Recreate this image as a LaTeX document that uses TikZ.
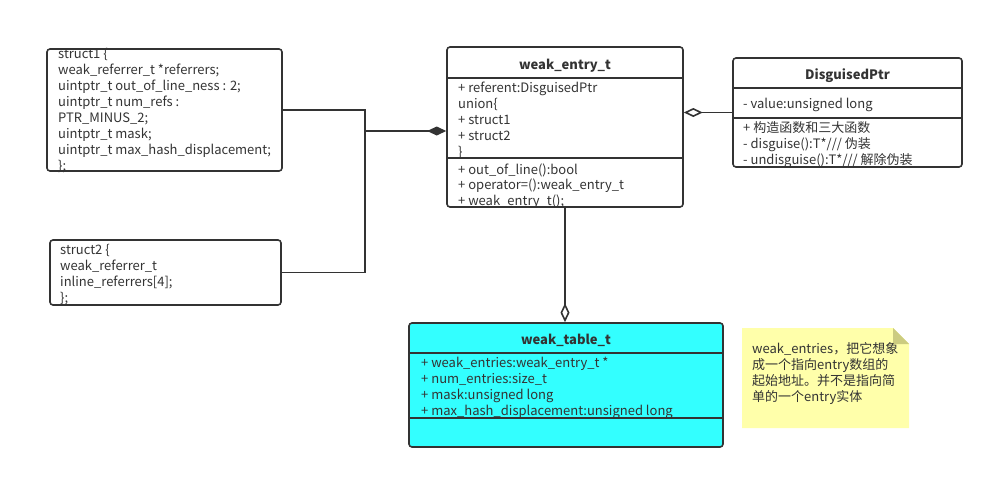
\documentclass[tikz,border=0pt]{standalone}
\usepackage{fontspec}
\setmainfont{Noto Sans CJK SC}
\usetikzlibrary{arrows.meta}
\definecolor{ink}{HTML}{333333}
\definecolor{cyanfill}{HTML}{33FFFF}
\definecolor{notefill}{HTML}{FFFFAA}
\definecolor{foldfill}{HTML}{CCCC80}
\tikzset{
  umlbox/.style={draw=ink, line width=1.6pt, rounded corners=3pt, inner sep=0},
  sepline/.style={draw=ink, line width=1.6pt},
  txt/.style={anchor=west, inner sep=0, text=ink, font=\fontsize{13}{16}\selectfont, text height=14pt, text depth=2pt},
  ttl/.style={txt, anchor=center, font=\fontsize{13}{16}\selectfont\bfseries},
  comp/.style={sepline, -{Diamond[length=19pt,width=9pt]}},
  agg/.style={sepline, -{Diamond[open,length=19pt,width=9pt]}},
}
\begin{document}
\begin{tikzpicture}[x=1pt,y=-1pt]
\useasboundingbox (0,0) rectangle (994,479);

% struct boxes
\node (s1) [umlbox, minimum width=235, minimum height=122] at (164.5,110) {};
\node (s2) [umlbox, minimum width=231, minimum height=65] at (165.5,272.5) {};
\foreach \t [count=\i] in {struct1 \{, weak\_referrer\_t *referrers;, uintptr\_t out\_of\_line\_ness : 2;, uintptr\_t num\_refs :, PTR\_MINUS\_2;, uintptr\_t mask;, uintptr\_t max\_hash\_displacement;, \};}
  \node (s1l\i) [txt] at (58,{52+16*(\i-1)}) {\t};
\foreach \t [count=\i] in {struct2 \{, weak\_referrer\_t, inline\_referrers[4];, \};}
  \node (s2l\i) [txt] at (60,{248+16.3*(\i-1)}) {\t};

% weak_entry_t
\node (we) [umlbox, minimum width=236, minimum height=160] at (565,127) {};
\foreach \y in {78,158}
  \draw [sepline] (we.west |- 0,\y) -- (we.east |- 0,\y);
\node (wett) [ttl] at (565,63) {weak\_entry\_t};
\foreach \t [count=\i] in {+ referent:DisguisedPtr, union\{, + struct1, + struct2, \}}
  \node (wea\i) [txt] at (458,{86+16*(\i-1)}) {\t};
\foreach \t [count=\i] in {+ out\_of\_line():bool, + operator=():weak\_entry\_t, + weak\_entry\_t();}
  \node (wem\i) [txt] at (458,{168+15.5*(\i-1)}) {\t};

% DisguisedPtr
\node (dp) [umlbox, minimum width=229, minimum height=109] at (847.5,112.5) {};
\foreach \y in {88,118}
  \draw [sepline] (dp.west |- 0,\y) -- (dp.east |- 0,\y);
\node (dptt) [ttl] at (847.5,73) {DisguisedPtr};
\node (dpa1) [txt] at (743,102) {- value:unsigned long};
\foreach \t [count=\i] in {+ 构造函数和三大函数, - disguise():T*/// 伪装, - undisguise():T*/// 解除伪装}
  \node (dpm\i) [txt] at (743,{126+16*(\i-1)}) {\t};

% weak_table_t
\node (wt) [umlbox, fill=cyanfill, minimum width=314, minimum height=124] at (566,385) {};
\foreach \y in {353,418}
  \draw [sepline] (wt.west |- 0,\y) -- (wt.east |- 0,\y);
\node (wttt) [ttl] at (566,338) {weak\_table\_t};
\foreach \t [count=\i] in {+ weak\_entries:weak\_entry\_t *, + num\_entries:size\_t, + mask:unsigned long, + max\_hash\_displacement:unsigned long}
  \node (wta\i) [txt] at (421,{361+16*(\i-1)}) {\t};

% note
\fill [notefill] (742,328) -- (893,328) -- (909,344) -- (909,428) -- (742,428) -- cycle;
\fill [foldfill] (893,328) -- (909,344) -- (893,344) -- cycle;
\foreach \t [count=\i] in {weak\_entries，把它想象, 成一个指向entry数组的, 起始地址。并不是指向简, 单的一个entry实体}
  \node (nt\i) [txt] at (752,{347+16*(\i-1)}) {\t};

% connectors
\coordinate (j) at (365,131);
\draw [sepline] (s1.east) -| (j);
\draw [sepline] (s2.east) -| (j);
\draw [comp] (j) -- (j -| we.west);
\draw [agg] (dp.west) -- (dp.west -| we.east);
\draw [agg] (we.south) -- (we.south |- wt.north);
\end{tikzpicture}
\end{document}
